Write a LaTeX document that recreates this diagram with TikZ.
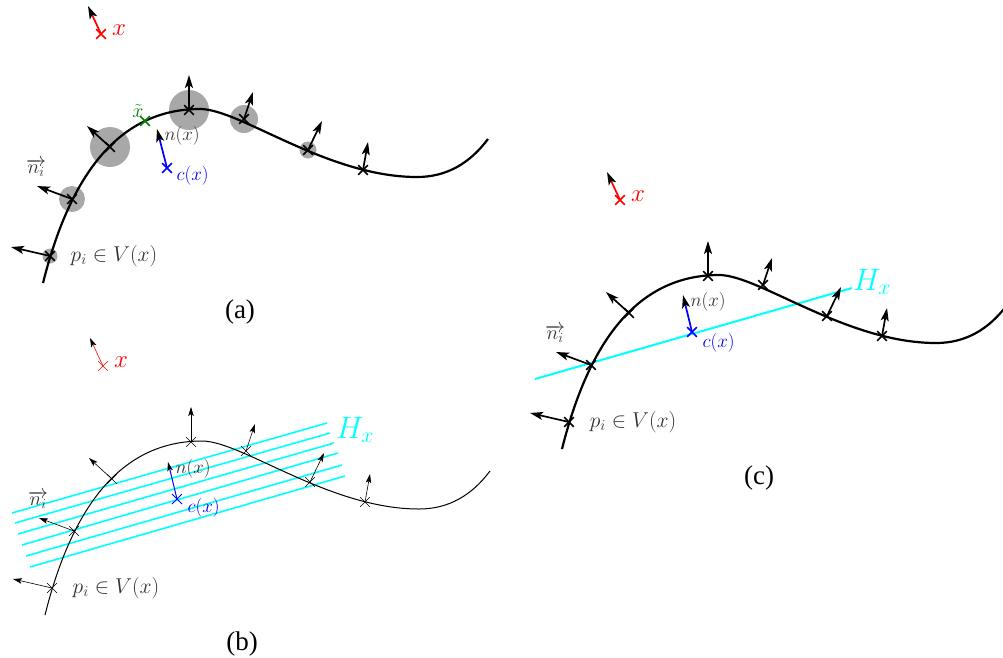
\RequirePackage{fix-cm}
\documentclass[tikz,border=0pt]{standalone}
\usepackage[no-math]{fontspec}
\newfontfamily\capfont{Liberation Serif}
\usetikzlibrary{arrows.meta,shapes.misc}
\definecolor{txtgray}{gray}{0.2}
\definecolor{disk}{gray}{0.66}
\definecolor{xgreen}{rgb}{0,0.5,0}
\definecolor{hcyan}{rgb}{0,1,1}
\tikzset{
  curve/.style={line width=2.2pt},
  nrm/.style={line width=1.7pt,-{Stealth[length=13pt,width=8pt,inset=3pt,black]}},
  mk/.style={cross out,draw,minimum size=8pt,inner sep=0pt,line width=1.7pt},
  lab/.style={text=txtgray,font=\fontsize{21.5}{25}\selectfont},
  slab/.style={font=\fontsize{19}{22}\selectfont},
  captxt/.style={font=\capfont\fontsize{27}{31}\selectfont},
  hyp/.style={hcyan,line width=1.6pt},
  hlab/.style={text=hcyan,font=\fontsize{31}{36}\selectfont},
  disc/.style={fill=disk,draw=none},
  thin panel/.style={
    curve/.style={line width=1pt},
    nrm/.style={line width=0.6pt,-{Stealth[length=9pt,width=5.5pt,inset=2pt,black]}},
    mk/.style={cross out,draw,minimum size=9pt,inner sep=0pt,line width=0.6pt}}
}
\newcommand\panelbody{%
  \draw[curve] (43,283) .. controls (70.5,173) and (120,109) .. (200,109)
     .. controls (240,109) and (327,177) .. (417,177)
     .. controls (447,177) and (470,163) .. (488,139);
  \foreach \i/\px/\py/\dx/\dy in {1/50/256/-39/-9, 2/72/199/-35/-13, 3/110/147/-23/-21, 4/189/110/0/-35, 5/244/119/9/-27, 6/308/150/14/-29, 7/363/170/5/-28}{
    \node[mk] (p\i) at (\px,\py) {};
    \coordinate (t\i) at (\px+\dx,\py+\dy);
    \draw[nrm] (p\i.center) -- (t\i);
  }
  \node[mk,red] (x) at (101,34) {};
  \coordinate (xt) at (88,6);
  \draw[nrm,red] (x.center) -- (xt);
  \node[text=red,font=\fontsize{25}{29}\selectfont] (xl) at (119,30) {$x$};
  \node[text=txtgray,font=\fontsize{20}{24}\selectfont] (ni) at (36,168) {$\overrightarrow{n_i}$};
  \node[lab] (pl) at (114,256) {$p_i\in V(x)$};
  \node[captxt] (capn) at (240,312) {(\panelname)};
}
\begin{document}
\begin{tikzpicture}[x=1pt,y=-1pt]
\useasboundingbox (0,0) rectangle (1003,657);
% ---------- panel (a)
\begin{scope}[name prefix=a-]
  \def\panelname{a}
  \foreach \px/\py/\r in {50/256/7.5, 72/199/13, 110/147/20, 189/110/20, 244/119/14, 308/150/8.5}
    \fill[disc] (\px,\py) circle (\r);
  \panelbody
  \node[mk,xgreen] (xtil) at (145,121) {};
  \node[text=xgreen,font=\fontsize{20}{24}\selectfont] (xtill) at (138,111) {$\tilde{x}$};
  \node[mk,blue] (c) at (167,168) {};
  \coordinate (n) at (157,129);
  \draw[nrm,blue] (c.center) -- (n);
  \node[slab,anchor=west,text=txtgray] (nl) at (161,136) {$n(x)$};
  \node[slab,anchor=west,text=blue] (cl) at (173,176) {$c(x)$};
\end{scope}
% ---------- panel (b)
\foreach \k/\ax/\ay/\bx/\by in {1/12/513/327/423, 2/15/523/330/433, 3/18/534/334/443, 4/22/545/338/453, 5/26/556/342/465, 6/30/567/345/476}{
  \coordinate (hb\k l) at (\ax,\ay);
  \coordinate (hb\k r) at (\bx,\by);
  \draw[hyp] (hb\k l) -- (hb\k r);
}
\node[hlab] (hbl) at (355,430) {$H_x$};
\begin{scope}[shift={(2,332)},name prefix=b-,thin panel]
  \def\panelname{b}
  \panelbody
  \node[mk,blue,line width=1pt] (c) at (175,167) {};
  \coordinate (n) at (166,130);
  \draw[nrm,blue,line width=1pt] (c.center) -- (n);
  \node[slab,anchor=west,text=txtgray] (nl) at (170,137) {$n(x)$};
  \node[slab,anchor=west,text=blue] (cl) at (182,176) {$c(x)$};
\end{scope}
% ---------- panel (c)
\coordinate (hcl) at (535,379);
\coordinate (hcr) at (852,288);
\draw[hyp,line width=2pt] (hcl) -- (hcr);
\node[hlab] (hcll) at (872,282) {$H_x$};
\begin{scope}[shift={(519,166)},name prefix=c-]
  \def\panelname{c}
  \panelbody
  \node[mk,blue] (c) at (173,166) {};
  \coordinate (n) at (164,129);
  \draw[nrm,blue] (c.center) -- (n);
  \node[slab,anchor=west,text=txtgray] (nl) at (168,136) {$n(x)$};
  \node[slab,anchor=west,text=blue] (cl) at (180,177) {$c(x)$};
\end{scope}
\end{tikzpicture}
\end{document}
